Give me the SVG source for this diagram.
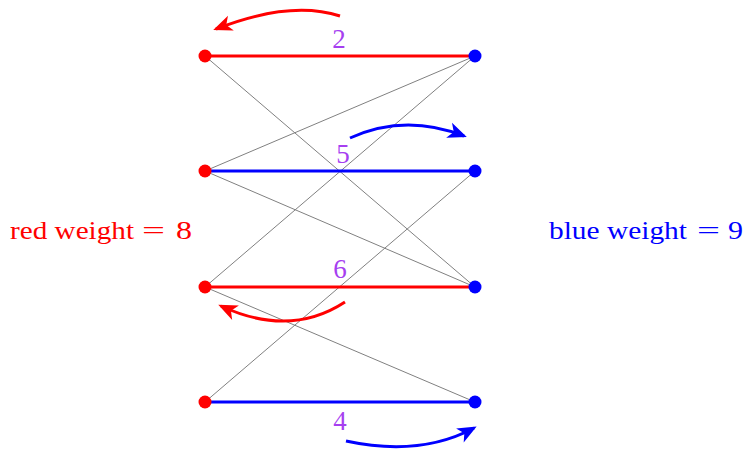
<svg xmlns="http://www.w3.org/2000/svg" width="746" height="450" viewBox="0 0 746 450">
<style>
.thin{stroke:#808080;stroke-width:1;fill:none}
.red{stroke:#ff0000;stroke-width:3;fill:none}
.blue{stroke:#0000ff;stroke-width:3;fill:none}
text{font-family:'Liberation Serif','Times New Roman',serif}
.lbl{font-size:27px;fill:#a63ff0;text-anchor:middle}
.big{font-size:25px}
</style>
<defs>
<marker id="ar" markerWidth="20" markerHeight="20" refX="0" refY="0" markerUnits="userSpaceOnUse" orient="auto" overflow="visible">
<path d="M3,0 L-16,-8 L-11,0 L-16,8 Z" fill="#ff0000"/>
</marker>
<marker id="ab" markerWidth="20" markerHeight="20" refX="0" refY="0" markerUnits="userSpaceOnUse" orient="auto" overflow="visible">
<path d="M3,0 L-16,-8 L-11,0 L-16,8 Z" fill="#0000ff"/>
</marker>
</defs>
<g id="connectors">
<line class="thin" x1="205" y1="56" x2="475" y2="287"/>
<line class="thin" x1="205" y1="171" x2="475" y2="56"/>
<line class="thin" x1="205" y1="171" x2="475" y2="287"/>
<line class="thin" x1="205" y1="287" x2="475" y2="56"/>
<line class="thin" x1="205" y1="287" x2="475" y2="402"/>
<line class="thin" x1="205" y1="402" x2="475" y2="171"/>
<line class="red" x1="205" y1="56" x2="475" y2="56"/>
<line class="blue" x1="205" y1="171" x2="475" y2="171"/>
<line class="red" x1="205" y1="287" x2="475" y2="287"/>
<line class="blue" x1="205" y1="402" x2="475" y2="402"/>
<path class="red" d="M340,16 Q290,0 216,29" marker-end="url(#ar)"/>
<path class="blue" d="M350,138 Q405,113 464,136" marker-end="url(#ab)"/>
<path class="red" d="M345,302 Q290,338 221,306" marker-end="url(#ar)"/>
<path class="blue" d="M346,441 Q420,457 474,428" marker-end="url(#ab)"/>
</g>
<g id="labels">
<text class="lbl" x="339" y="48">2</text>
<text class="lbl" x="343" y="163">5</text>
<text class="lbl" x="340" y="278">6</text>
<text class="lbl" x="340" y="430">4</text>
</g>
<g id="node-L1"><circle cx="205" cy="56" r="6.5" fill="#ff0000"/></g>
<g id="node-L2"><circle cx="205" cy="171" r="6.5" fill="#ff0000"/></g>
<g id="node-L3"><circle cx="205" cy="287" r="6.5" fill="#ff0000"/></g>
<g id="node-L4"><circle cx="205" cy="402" r="6.5" fill="#ff0000"/></g>
<g id="node-R1"><circle cx="475" cy="56" r="6.5" fill="#0000ff"/></g>
<g id="node-R2"><circle cx="475" cy="171" r="6.5" fill="#0000ff"/></g>
<g id="node-R3"><circle cx="475" cy="287" r="6.5" fill="#0000ff"/></g>
<g id="node-R4"><circle cx="475" cy="402" r="6.5" fill="#0000ff"/></g>
<g id="red-weight" fill="#ff0000">
<text class="big" x="10" y="239" textLength="124" lengthAdjust="spacingAndGlyphs">red weight</text>
<text class="big" x="142" y="239" textLength="23" lengthAdjust="spacingAndGlyphs">=</text>
<text class="big" x="176" y="239" textLength="16" lengthAdjust="spacingAndGlyphs">8</text>
</g>
<g id="blue-weight" fill="#0000ff">
<text class="big" x="549" y="239" textLength="138" lengthAdjust="spacingAndGlyphs">blue weight</text>
<text class="big" x="697" y="239" textLength="23" lengthAdjust="spacingAndGlyphs">=</text>
<text class="big" x="728" y="239" textLength="15" lengthAdjust="spacingAndGlyphs">9</text>
</g>
</svg>
